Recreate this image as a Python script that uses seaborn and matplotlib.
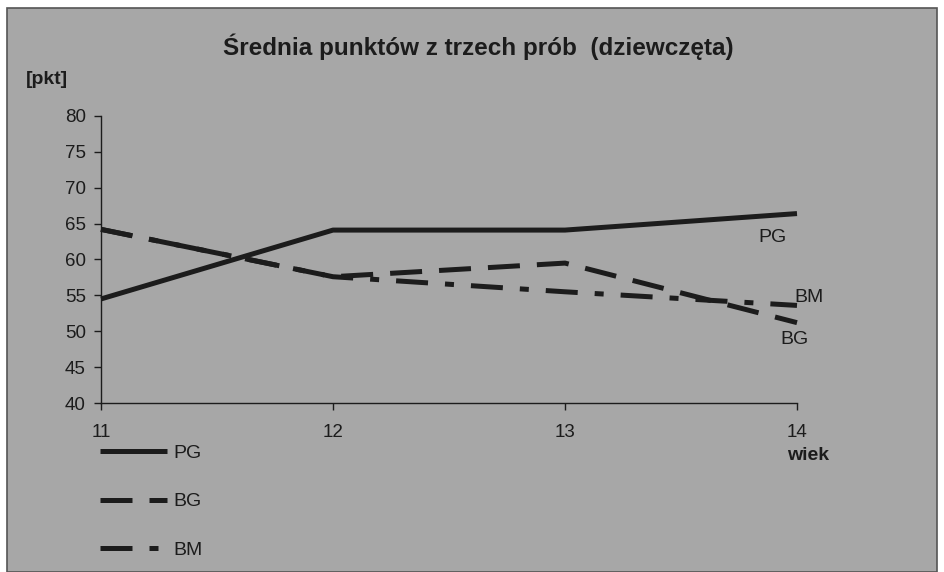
import matplotlib
matplotlib.use("Agg")
import matplotlib.pyplot as plt
import seaborn as sns
import pandas as pd
from matplotlib.patches import Rectangle
from matplotlib.lines import Line2D

# ---- data ----
ages = [11, 12, 13, 14]
pg = [54.5, 64.1, 64.1, 66.4]
bg = [64.2, 57.6, 59.5, 51.2]
bm = [64.2, 57.6, 55.5, 53.6]
series_names = ["PG", "BG", "BM"]
y_ticks = [40, 45, 50, 55, 60, 65, 70, 75, 80]
x_ticks = [11, 12, 13, 14]
title = "Średnia punktów z trzech prób  (dziewczęta)"

df = pd.DataFrame({
    "wiek": ages * 3,
    "pkt": pg + bg + bm,
    "seria": ["PG"] * 4 + ["BG"] * 4 + ["BM"] * 4,
})

sns.set_theme(style="white")
plt.rcParams["font.family"] = ["Liberation Sans", "DejaVu Sans"]

BG_COL = "#a7a7a7"
INK = "#1c1c1c"
LW = 3.6
dash_map = {"PG": "", "BG": (6.4, 3.4), "BM": (6.4, 3.4, 1.8, 3.4)}

fig = plt.figure(figsize=(9.44, 5.72), dpi=100, facecolor="white")
fig.patches.append(Rectangle((7 / 944, 0), 930 / 944, 564 / 572, transform=fig.transFigure,
                             facecolor=BG_COL, edgecolor="#555555", linewidth=1.2, zorder=-5))

ax = fig.add_axes([101 / 944, 169 / 572, 696 / 944, 287 / 572])
ax.set_facecolor("none")
ax.set_zorder(2)

sns.lineplot(data=df, x="wiek", y="pkt", hue="seria", style="seria",
             palette={s: INK for s in series_names}, dashes=dash_map,
             hue_order=series_names, style_order=series_names,
             linewidth=LW, legend=False, ax=ax)
for ln in ax.lines:
    ln.set_solid_capstyle("butt")
    ln.set_dash_capstyle("butt")
    ln.set_clip_on(False)

ax.set_xlim(11, 14)
ax.set_ylim(40, 80)
ax.set_xticks(x_ticks)
ax.set_yticks(y_ticks)
ax.set_xticklabels([str(v) for v in x_ticks])
ax.set_yticklabels([str(v) for v in y_ticks])
ax.set_xlabel("")
ax.set_ylabel("")
for s in ["top", "right"]:
    ax.spines[s].set_visible(False)
for s in ["left", "bottom"]:
    ax.spines[s].set_color(INK)
    ax.spines[s].set_linewidth(1.0)
ax.tick_params(axis="y", direction="out", length=5, width=1, color=INK, pad=6,
               labelsize=13.5, labelcolor=INK, left=True)
ax.tick_params(axis="x", direction="out", length=5, width=1, color=INK, pad=10,
               labelsize=13.5, labelcolor=INK, bottom=True)

fig.text(478 / 944, 1 - 47 / 572, title, ha="center", va="center",
         fontsize=17.5, fontweight="bold", color=INK)
fig.text(26 / 944, 1 - 79 / 572, "[pkt]", ha="left", va="center",
         fontsize=14, fontweight="bold", color=INK)
fig.text(808 / 944, 1 - 455 / 572, "wiek", ha="center", va="center",
         fontsize=14, fontweight="bold", color=INK)

# labels at line ends
fig.text(773 / 944, 1 - 238 / 572, "PG", ha="center", va="center",
         fontsize=14, color=INK)
fig.text(809 / 944, 1 - 297 / 572, "BM", ha="center", va="center",
         fontsize=14, color=INK)
fig.text(795 / 944, 1 - 340 / 572, "BG", ha="center", va="center",
         fontsize=14, color=INK)

# legend
handles = [Line2D([], [], color=INK, lw=LW, solid_capstyle="butt", dash_capstyle="butt",
                  linestyle=("solid" if dash_map[s] == "" else (0, dash_map[s])))
           for s in series_names]
leg = fig.legend(handles, series_names, loc="upper left",
                 bbox_to_anchor=(100 / 944, 1 - 444 / 572), frameon=False,
                 fontsize=14, handlelength=3.45, handletextpad=0.3,
                 labelspacing=1.6, borderpad=0, borderaxespad=0)
for t in leg.get_texts():
    t.set_color(INK)

fig.savefig("out.png", dpi=100, facecolor=fig.get_facecolor())
